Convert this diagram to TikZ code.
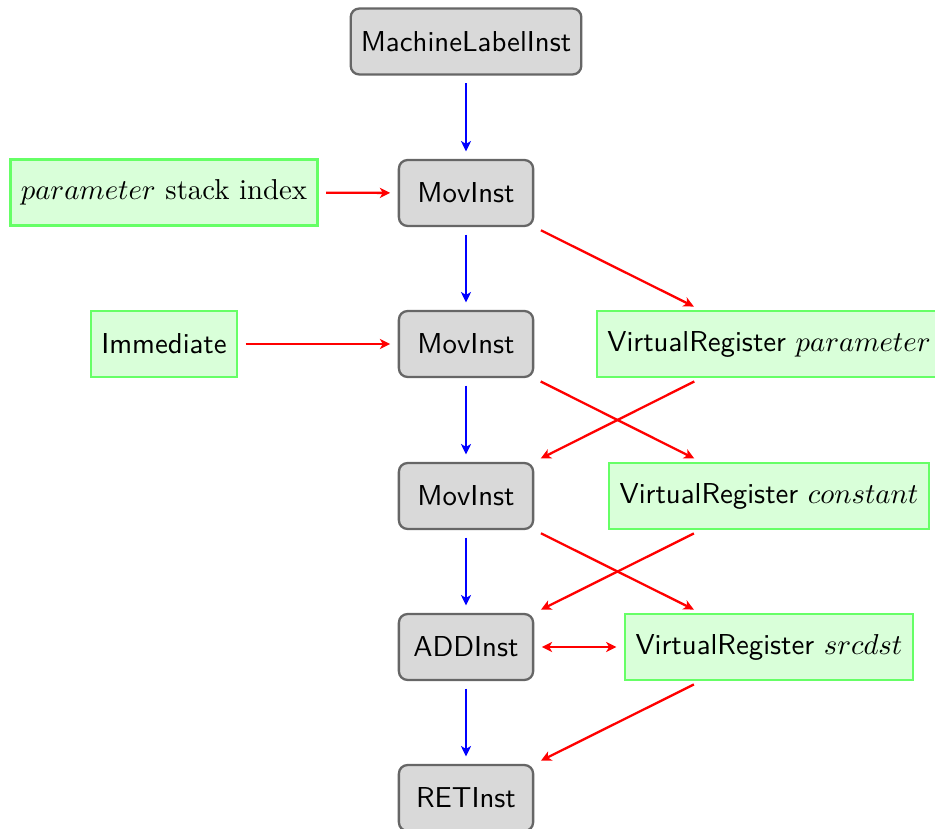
\documentclass[tikz,border=0pt]{standalone}
\usetikzlibrary{arrows.meta}
\begin{document}
\begin{tikzpicture}[x=0.3472pt,y=-0.3472pt,
  tip/.style={Stealth[length=3.6pt,width=3.5pt,inset=1pt]},
  inst/.style={draw=black!60, fill=gray!30, rounded corners=3pt, thick,
    minimum width=46.6pt, minimum height=22.9pt, inner xsep=3.5pt,
    font=\sffamily},
  operand/.style={draw=green!60, fill=green!15, thick,
    minimum height=22.9pt, inner xsep=3.6pt},
  flow/.style={draw=blue, thick, -{Stealth[length=3.6pt,width=3.5pt,inset=1pt]},
    shorten <=2.6pt, shorten >=2.6pt},
  dataflow/.style={draw=red, thick, -{Stealth[length=3.6pt,width=3.5pt,inset=1pt]},
    shorten <=2.6pt, shorten >=2.6pt}]
  \useasboundingbox (0,0) rectangle (935,829);

  % instruction chain
  \node[inst] (ml)  at (466,41.5) {MachineLabelInst};
  \node[inst] (m1)  at (466,193)  {MovInst};
  \node[inst] (m2)  at (466,344)  {MovInst};
  \node[inst] (m3)  at (466,496)  {MovInst};
  \node[inst] (add) at (466,647)  {ADDInst};
  \node[inst] (ret) at (466,798)  {RETInst};

  % operands
  \node[operand] (psi) at (164,192.5) {$parameter$ stack index};
  \node[operand, font=\sffamily] (imm) at (164,344) {Immediate};
  \node[operand, font=\sffamily] (vrp) at (769,344) {VirtualRegister $parameter$};
  \node[operand, font=\sffamily] (vrc) at (769,496) {VirtualRegister $constant$};
  \node[operand, font=\sffamily] (vrs) at (769,647) {VirtualRegister $srcdst$};

  % control flow
  \draw[flow] (ml) -- (m1);
  \draw[flow] (m1) -- (m2);
  \draw[flow] (m2) -- (m3);
  \draw[flow] (m3) -- (add);
  \draw[flow] (add) -- (ret);

  % data flow
  \draw[dataflow] (psi) -- (m1);
  \draw[dataflow] (imm) -- (m2);
  \draw[dataflow] (m1) -- (vrp);
  \draw[dataflow] (m2) -- (vrc);
  \draw[dataflow] (vrp) -- (m3);
  \draw[dataflow] (m3) -- (vrs);
  \draw[dataflow] (vrc) -- (add);
  \draw[dataflow, {Stealth[length=3.6pt,width=3.5pt,inset=1pt]}-{Stealth[length=3.6pt,width=3.5pt,inset=1pt]}] (add) -- (vrs);
  \draw[dataflow] (vrs) -- (ret);
\end{tikzpicture}
\end{document}
